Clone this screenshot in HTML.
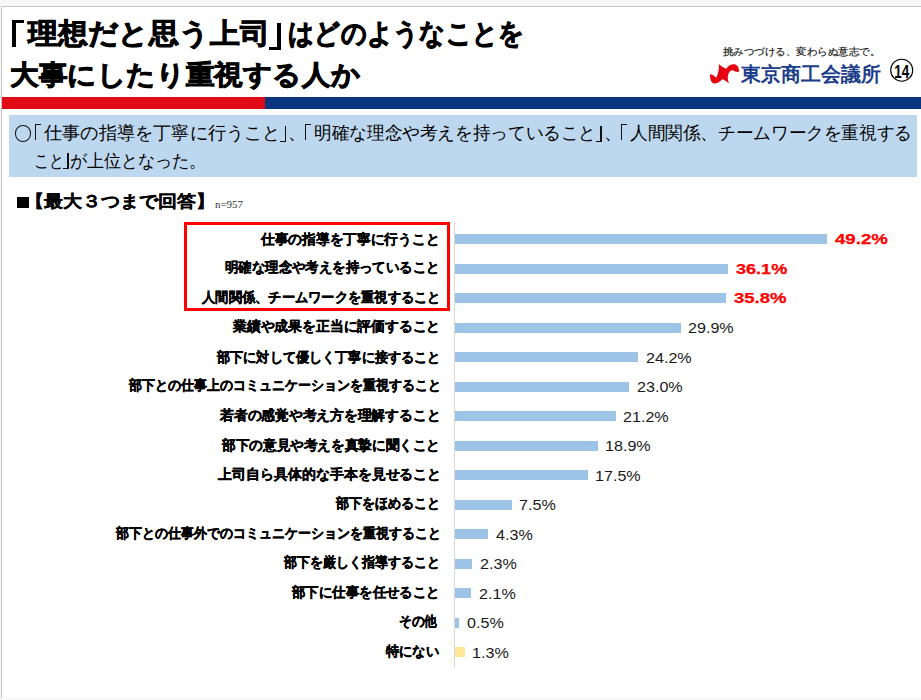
<!DOCTYPE html>
<html><head><meta charset="utf-8"><style>
html,body{margin:0;padding:0;}
body{width:921px;height:700px;overflow:hidden;background:#f7f7f7;position:relative;font-family:"Liberation Sans",sans-serif;}
.slide{position:absolute;left:1px;top:6px;width:920px;height:692px;background:#fff;border-top:1px solid #c9c9c9;border-left:1px solid #c9c9c9;box-sizing:border-box;}
.t{position:absolute;white-space:nowrap;transform-origin:0 0;line-height:1;}
.abs{position:absolute;}
</style></head><body>
<div class="slide"></div>
<div class="abs" style="left:2px;top:97px;width:263px;height:12px;background:#e10a17"></div>
<div class="abs" style="left:265px;top:97px;width:656px;height:12px;background:#0c3580"></div>
<div class="abs" style="left:9px;top:115px;width:908px;height:62px;background:#bdd7ee"></div>
<div class="abs" style="left:14.6px;top:125.3px;width:16.6px;height:16.4px;border:1.1px solid #111;border-radius:50%;box-sizing:border-box"></div>
<div class="abs" style="left:16.5px;top:197.4px;width:12.4px;height:10.4px;background:#000"></div>
<div class="abs" style="left:454px;top:223px;width:1px;height:445px;background:#d9d9d9"></div>
<div class="abs" style="left:184px;top:222px;width:266px;height:89px;border:3px solid #ff0000;box-sizing:border-box"></div>

<div class="abs" style="left:12.4px;top:20px;width:4.00px;height:26.70px;background:#000"></div>
<div class="abs" style="left:12.4px;top:20px;width:12.00px;height:2.90px;background:#000"></div>
<div class="abs" style="left:277.4px;top:23px;width:4.00px;height:26.90px;background:#000"></div>
<div class="abs" style="left:269.1px;top:47.0px;width:12.30px;height:2.90px;background:#000"></div>
<div class="abs" style="left:35px;top:124.2px;width:1.25px;height:16.30px;background:#111"></div>
<div class="abs" style="left:35px;top:124.2px;width:5.80px;height:1.10px;background:#111"></div>
<div class="abs" style="left:284.65px;top:125.8px;width:1.25px;height:16.10px;background:#111"></div>
<div class="abs" style="left:279.6px;top:140.8px;width:6.30px;height:1.10px;background:#111"></div>
<div class="abs" style="left:304.6px;top:124.1px;width:1.25px;height:16.30px;background:#111"></div>
<div class="abs" style="left:304.6px;top:124.1px;width:6.50px;height:1.10px;background:#111"></div>
<div class="abs" style="left:600.45px;top:125.8px;width:1.25px;height:16.10px;background:#111"></div>
<div class="abs" style="left:595.6px;top:140.8px;width:6.10px;height:1.10px;background:#111"></div>
<div class="abs" style="left:620.6px;top:124.1px;width:1.25px;height:16.30px;background:#111"></div>
<div class="abs" style="left:620.6px;top:124.1px;width:6.50px;height:1.10px;background:#111"></div>
<div class="abs" style="left:67.45px;top:152.6px;width:1.25px;height:16.10px;background:#111"></div>
<div class="abs" style="left:62.8px;top:167.6px;width:5.90px;height:1.10px;background:#111"></div>
<div class="t" id="t1b" style="left:28.16px;top:20.00px;font-size:28.12px;font-weight:bold;color:#000;transform:scaleX(1.0633);-webkit-text-stroke:0.9px #000;">理想だと思う上司</div>
<div class="t" id="t1d" style="left:287.90px;top:20.00px;font-size:28.12px;font-weight:bold;color:#000;transform:scaleX(0.9056);-webkit-text-stroke:0.9px #000;">はどのようなことを</div>
<div class="t" id="t2" style="left:10.04px;top:60.91px;font-size:27.19px;font-weight:bold;color:#000;transform:scaleX(1.0581);-webkit-text-stroke:0.9px #000;">大事にしたり重視する人か</div>
<div class="t" id="slogan" style="left:723.40px;top:47.00px;font-size:10.00px;font-weight:normal;color:#1a1a1a;transform:scaleX(1.0480);font-family:'Liberation Serif',serif;-webkit-text-stroke:0.2px #1a1a1a;">挑みつづける、変わらぬ意志で。</div>
<div class="t" id="logo" style="left:741.46px;top:63.54px;font-size:20.42px;font-weight:bold;color:#1b3d8a;transform:scaleX(0.9962);">東京商工会議所</div>
<div class="t" id="b1b" style="left:44.10px;top:125.30px;font-size:17.80px;font-weight:normal;color:#000;transform:scaleX(1.0106);">仕事の指導を丁寧に行うこと</div>
<div class="t" id="b1c" style="left:287.96px;top:125.30px;font-size:17.80px;font-weight:normal;color:#000;transform:scaleX(1.0106);">、</div>
<div class="t" id="b1d" style="left:314.12px;top:125.30px;font-size:17.80px;font-weight:normal;color:#000;transform:scaleX(0.9794);">明確な理念や考えを持っていること</div>
<div class="t" id="b1e" style="left:603.60px;top:125.30px;font-size:17.80px;font-weight:normal;color:#000;transform:scaleX(1.0106);">、</div>
<div class="t" id="b1f" style="left:630.20px;top:125.30px;font-size:17.80px;font-weight:normal;color:#000;transform:scaleX(0.9789);">人間関係、チームワークを重視する</div>
<div class="t" id="b2a" style="left:33.53px;top:152.60px;font-size:17.80px;font-weight:normal;color:#000;transform:scaleX(0.8333);">こと</div>
<div class="t" id="b2c" style="left:70.49px;top:152.60px;font-size:17.80px;font-weight:normal;color:#000;transform:scaleX(0.9477);">が上位となった。</div>
<div class="t" id="h2" style="left:24.80px;top:193.20px;font-size:16.50px;font-weight:bold;color:#000;transform:scaleX(1.1200);-webkit-text-stroke:0.25px #000;">【最大３つまで回答】</div>
<div class="t" id="n" style="left:215.45px;top:199.00px;font-size:11.00px;font-weight:normal;color:#333;transform:scaleX(0.9897);font-family:'Liberation Serif',serif;">n=957</div>
<div class="t" id="l0" style="left:261.41px;top:233.05px;font-size:13.50px;font-weight:bold;color:#000;transform:scaleX(0.9794);-webkit-text-stroke:0.35px #000;">仕事の指導を丁寧に行うこと</div>
<div class="abs" style="left:455px;top:234.0px;width:372.4px;height:10px;background:#9dc3e6"></div>
<div class="t" id="v0" style="left:834.76px;top:232.08px;font-size:14.42px;font-weight:bold;color:#ff0000;transform:scaleX(1.2943);-webkit-text-stroke:0.25px #ff0000;">49.2%</div>
<div class="t" id="l1" style="left:225.42px;top:261.35px;font-size:13.50px;font-weight:bold;color:#000;transform:scaleX(0.9576);-webkit-text-stroke:0.35px #000;">明確な理念や考えを持っていること</div>
<div class="abs" style="left:455px;top:263.5px;width:273.3px;height:10px;background:#9dc3e6"></div>
<div class="t" id="v1" style="left:736.15px;top:261.58px;font-size:14.42px;font-weight:bold;color:#ff0000;transform:scaleX(1.2542);-webkit-text-stroke:0.25px #ff0000;">36.1%</div>
<div class="t" id="l2" style="left:202.42px;top:290.87px;font-size:13.50px;font-weight:bold;color:#000;transform:scaleX(0.9467);-webkit-text-stroke:0.35px #000;">人間関係、チームワークを重視すること</div>
<div class="abs" style="left:455px;top:293.0px;width:271.0px;height:10px;background:#9dc3e6"></div>
<div class="t" id="v2" style="left:733.60px;top:291.12px;font-size:14.42px;font-weight:bold;color:#ff0000;transform:scaleX(1.2851);-webkit-text-stroke:0.25px #ff0000;">35.8%</div>
<div class="t" id="l3" style="left:232.79px;top:320.35px;font-size:13.50px;font-weight:bold;color:#000;transform:scaleX(0.9872);-webkit-text-stroke:0.35px #000;">業績や成果を正当に評価すること</div>
<div class="abs" style="left:455px;top:322.5px;width:226.3px;height:10px;background:#9dc3e6"></div>
<div class="t" id="v3" style="left:688.43px;top:320.50px;font-size:14.00px;font-weight:normal;color:#1a1a1a;transform:scaleX(1.1512);">29.9%</div>
<div class="t" id="l4" style="left:216.99px;top:350.86px;font-size:13.50px;font-weight:bold;color:#000;transform:scaleX(0.9386);-webkit-text-stroke:0.35px #000;">部下に対して優しく丁寧に接すること</div>
<div class="abs" style="left:455px;top:352.0px;width:183.2px;height:10px;background:#9dc3e6"></div>
<div class="t" id="v4" style="left:645.74px;top:350.50px;font-size:14.00px;font-weight:normal;color:#1a1a1a;transform:scaleX(1.1512);">24.2%</div>
<div class="t" id="l5" style="left:129.00px;top:379.35px;font-size:13.50px;font-weight:bold;color:#000;transform:scaleX(0.9273);-webkit-text-stroke:0.35px #000;">部下との仕事上のコミュニケーションを重視すること</div>
<div class="abs" style="left:455px;top:381.5px;width:174.1px;height:10px;background:#9dc3e6"></div>
<div class="t" id="v5" style="left:636.62px;top:379.50px;font-size:14.00px;font-weight:normal;color:#1a1a1a;transform:scaleX(1.1512);">23.0%</div>
<div class="t" id="l6" style="left:219.93px;top:408.86px;font-size:13.50px;font-weight:bold;color:#000;transform:scaleX(0.9837);-webkit-text-stroke:0.35px #000;">若者の感覚や考え方を理解すること</div>
<div class="abs" style="left:455px;top:411.0px;width:160.5px;height:10px;background:#9dc3e6"></div>
<div class="t" id="v6" style="left:622.86px;top:409.50px;font-size:14.00px;font-weight:normal;color:#1a1a1a;transform:scaleX(1.1512);">21.2%</div>
<div class="t" id="l7" style="left:222.04px;top:438.87px;font-size:13.50px;font-weight:bold;color:#000;transform:scaleX(0.9738);-webkit-text-stroke:0.35px #000;">部下の意見や考えを真摯に聞くこと</div>
<div class="abs" style="left:455px;top:440.5px;width:143.1px;height:10px;background:#9dc3e6"></div>
<div class="t" id="v7" style="left:605.10px;top:438.50px;font-size:14.00px;font-weight:normal;color:#1a1a1a;transform:scaleX(1.1512);">18.9%</div>
<div class="t" id="l8" style="left:217.94px;top:467.87px;font-size:13.50px;font-weight:bold;color:#000;transform:scaleX(0.9972);-webkit-text-stroke:0.35px #000;">上司自ら具体的な手本を見せること</div>
<div class="abs" style="left:455px;top:470.0px;width:132.5px;height:10px;background:#9dc3e6"></div>
<div class="t" id="v8" style="left:594.50px;top:468.50px;font-size:14.00px;font-weight:normal;color:#1a1a1a;transform:scaleX(1.1512);">17.5%</div>
<div class="t" id="l9" style="left:335.99px;top:497.37px;font-size:13.50px;font-weight:bold;color:#000;transform:scaleX(0.9316);-webkit-text-stroke:0.35px #000;">部下をほめること</div>
<div class="abs" style="left:455px;top:499.5px;width:56.8px;height:10px;background:#9dc3e6"></div>
<div class="t" id="v9" style="left:518.88px;top:497.50px;font-size:14.00px;font-weight:normal;color:#1a1a1a;transform:scaleX(1.1512);">7.5%</div>
<div class="t" id="l10" style="left:116.00px;top:526.87px;font-size:13.50px;font-weight:bold;color:#000;transform:scaleX(0.9272);-webkit-text-stroke:0.35px #000;">部下との仕事外でのコミュニケーションを重視すること</div>
<div class="abs" style="left:455px;top:529.0px;width:32.6px;height:10px;background:#9dc3e6"></div>
<div class="t" id="v10" style="left:496.38px;top:527.50px;font-size:14.00px;font-weight:normal;color:#1a1a1a;transform:scaleX(1.1512);">4.3%</div>
<div class="t" id="l11" style="left:284.03px;top:556.35px;font-size:13.50px;font-weight:bold;color:#000;transform:scaleX(0.9295);-webkit-text-stroke:0.35px #000;">部下を厳しく指導すること</div>
<div class="abs" style="left:455px;top:558.5px;width:17.4px;height:10px;background:#9dc3e6"></div>
<div class="t" id="v11" style="left:480.03px;top:556.50px;font-size:14.00px;font-weight:normal;color:#1a1a1a;transform:scaleX(1.1512);">2.3%</div>
<div class="t" id="l12" style="left:292.00px;top:585.86px;font-size:13.50px;font-weight:bold;color:#000;transform:scaleX(0.9590);-webkit-text-stroke:0.35px #000;">部下に仕事を任せること</div>
<div class="abs" style="left:455px;top:588.0px;width:15.9px;height:10px;background:#9dc3e6"></div>
<div class="t" id="v12" style="left:478.54px;top:586.50px;font-size:14.00px;font-weight:normal;color:#1a1a1a;transform:scaleX(1.1512);">2.1%</div>
<div class="t" id="l13" style="left:399.09px;top:615.37px;font-size:13.50px;font-weight:bold;color:#000;transform:scaleX(0.9065);-webkit-text-stroke:0.35px #000;">その他</div>
<div class="abs" style="left:455px;top:617.5px;width:3.8px;height:10px;background:#9dc3e6"></div>
<div class="t" id="v13" style="left:467.32px;top:615.50px;font-size:14.00px;font-weight:normal;color:#1a1a1a;transform:scaleX(1.1512);">0.5%</div>
<div class="t" id="l14" style="left:385.86px;top:644.87px;font-size:13.50px;font-weight:bold;color:#000;transform:scaleX(0.9434);-webkit-text-stroke:0.35px #000;">特にない</div>
<div class="abs" style="left:455px;top:647.0px;width:9.8px;height:10px;background:#ffe699"></div>
<div class="t" id="v14" style="left:472.30px;top:645.50px;font-size:14.00px;font-weight:normal;color:#1a1a1a;transform:scaleX(1.1512);">1.3%</div>
<svg class="abs" style="left:705px;top:60px" width="40" height="28" viewBox="0 0 40 28"><path fill="#e60012" d="M5,14.3 C7,14.2 9.5,16 11,17.8 C12.8,15.5 14.2,10 13.9,4 C16.5,6.5 19,8 21.2,8.8 C23,5.5 26.5,3.8 29.5,4.2 C32.5,4.8 34.5,8 33.9,11.8 C31.5,12.3 29.5,11.2 27.8,10.2 C25,10 22.8,13.5 22.8,17.5 C22.8,19.5 23.3,21.5 24,23.2 C21.5,21.3 19.2,19.8 17.3,19.2 C14.8,21.8 12,23.6 9,23.6 C6.3,23.2 5,19 5,14.3 Z"/></svg>
<svg class="abs" style="left:888px;top:57px" width="28" height="28" viewBox="0 0 28 28"><circle cx="13.7" cy="13.2" r="11" fill="none" stroke="#000" stroke-width="1.1"/><text x="13.7" y="20.5" text-anchor="middle" font-family="Liberation Sans" font-weight="bold" font-size="19" textLength="15" lengthAdjust="spacingAndGlyphs">14</text></svg>

</body></html>
